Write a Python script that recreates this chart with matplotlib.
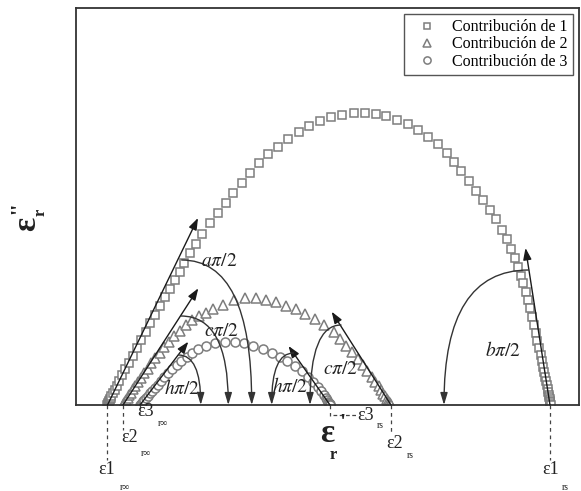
import matplotlib.pyplot as plt
from matplotlib.patches import FancyArrowPatch
from matplotlib.path import Path

plt.rcParams['font.family'] = ['Liberation Serif', 'DejaVu Serif']
plt.rcParams['mathtext.fontset'] = 'stix'

# =========================
# DATA (eps', eps'' in arbitrary units)
# =========================

# contribucion 1 - cuadrados
x1 = [107.5, 107.8, 108.2, 108.6, 109.1, 109.6, 110.2, 110.8, 111.4, 113.0,
      114.8, 117.0, 119.4, 122.1,
      125.2, 128.8, 132.6, 136.7, 141.1, 145.7, 150.4, 155.3, 160.3, 165.2,
      170.1, 174.9, 179.7, 184.5, 190.0, 196.0, 202.5, 210.0, 218.3, 226.0,
      233.3, 241.7, 250.0, 259.0, 268.3, 278.3, 288.3, 299.0, 309.3, 320.0,
      331.0, 342.3, 353.7, 364.7, 375.7, 386.3, 397.3, 408.3, 418.3, 428.3,
      437.7, 446.7, 454.0, 461.0, 469.3, 476.0, 483.3, 490.0, 496.0, 501.7,
      506.7, 511.0, 515.0, 518.3, 521.0, 523.3, 525.7, 527.7, 530.0, 532.0,
      534.0, 535.8, 537.5, 539.1, 540.6, 541.9, 543.1, 544.2, 545.2, 546.1,
      546.9, 547.6, 548.2, 548.7, 549.2, 549.6, 549.9, 550.2, 550.4, 550.6]
y1 = [0.5, 1.2, 2.0, 2.9, 3.8, 4.8, 6.0, 7.2, 8.6, 11.7,
      15.3, 19.5, 24.3, 29.7,
      35.7, 42.3, 49.5, 57.1, 65.1, 73.4, 81.9, 90.5, 99.2, 107.9,
      116.5, 125.0, 133.4, 141.8, 152.0, 161.5, 171.5, 182.3, 192.3, 202.3,
      212.3, 222.3, 232.3, 241.7, 250.7, 258.3, 266.0, 273.0, 279.3, 284.3,
      288.3, 290.3, 292.0, 292.0, 291.0, 288.7, 285.3, 281.0, 275.0, 268.3,
      260.7, 252.3, 243.3, 233.8, 224.0, 214.3, 205.0, 195.0, 185.7, 175.0,
      165.7, 155.7, 146.7, 138.3, 129.0, 121.7, 113.3, 105.0, 96.7, 88.3,
      80.0, 72.0, 64.3, 57.0, 50.2, 43.9, 38.1, 32.8, 28.0, 23.7,
      19.8, 16.3, 13.2, 10.5, 8.1, 6.0, 4.2, 2.7, 1.5, 0.5]

# contribucion 2 - triangulos
x2 = [123.5, 124.3, 125.2, 126.3, 127.6, 129.2, 131.0, 133.1, 135.5, 138.2,
      141.1, 144.3, 147.8, 151.5, 155.5, 159.8, 164.4, 169.3, 174.5, 180.0,
      186.0, 192.5, 199.5, 206.5, 213.5, 223.3, 234.3, 245.0, 255.7, 266.0,
      276.0, 285.7, 295.7, 305.3, 315.0, 324.3, 333.7, 339.9, 346.0, 352.0,
      357.6, 362.8, 367.5, 371.8, 375.4, 378.6, 381.3, 383.5, 385.4, 386.9,
      388.2, 389.1, 389.9, 390.4, 390.8]
y2 = [0.5, 1.7, 3.2, 5.0, 7.1, 9.6, 12.4, 15.6, 19.1, 23.0,
      27.2, 31.7, 36.5, 41.6, 46.9, 52.4, 57.9, 63.5, 69.0, 74.4,
      79.6, 84.6, 89.0, 92.5, 95.7, 100.0, 104.7, 106.7, 106.7, 105.0,
      102.7, 99.3, 95.7, 91.0, 85.7, 80.3, 73.0, 66.3, 59.5, 52.7,
      46.0, 39.6, 33.6, 28.0, 23.0, 18.6, 14.8, 11.5, 8.7, 6.4,
      4.5, 3.0, 1.8, 0.9, 0.3]

# contribucion 3 - circulos
x3 = [140.5, 141.2, 142.1, 143.2, 144.5, 146.0, 147.8, 149.8, 152.1, 154.7,
      157.6, 160.8, 164.3, 168.1, 172.2, 176.7, 181.5, 186.6, 192.0, 197.7,
      206.0, 215.0, 225.0, 235.0, 244.3, 253.3, 262.7, 271.7, 280.0, 287.3,
      295.0, 301.7, 308.3, 313.5, 317.8, 321.2, 323.9, 325.9, 327.4, 328.5,
      329.3, 329.8, 330.1]
y3 = [0.4, 1.3, 2.4, 3.8, 5.4, 7.2, 9.3, 11.7, 14.3, 17.2,
      20.4, 23.9, 27.6, 31.6, 35.7, 40.0, 44.3, 48.5, 52.4, 55.9,
      59.0, 61.7, 63.3, 63.3, 61.7, 59.0, 55.7, 52.3, 48.3, 44.3,
      39.3, 34.3, 28.3, 23.0, 18.0, 13.7, 10.1, 7.2, 4.9, 3.1,
      1.8, 0.9, 0.3]

labels = ["Contribución de 1", "Contribución de 2", "Contribución de 3"]

# tangentes en los extremos: origen en el eje, punta de flecha
tan_x0 = [107.5, 123.0, 140.0, 330.0, 391.0, 550.0]
tan_x1 = [198.0, 198.3, 188.3, 288.5, 331.7, 525.5]
tan_y1 = [187.0, 116.7, 63.3, 59.0, 93.3, 157.0]

# arcos de angulo: inicio sobre la tangente, final sobre el eje
arc_xs = [181.7, 181.0, 178.5, 293.5, 341.0, 528.5]
arc_ys = [145.0, 89.0, 50.0, 52.0, 80.0, 135.0]
arc_xe = [251.7, 228.3, 200.7, 271.7, 310.0, 444.0]
arc_txt = [r"$a\pi/2$", r"$c\pi/2$", r"$h\pi/2$", r"$h\pi/2$", r"$c\pi/2$", r"$b\pi/2$"]
txt_x = [219, 222, 182, 290, 341, 503]
txt_y = [143, 74, 17, 18, 35, 55]

# =========================
# PLOT
# =========================

fig = plt.figure(figsize=(5.81, 4.91), dpi=100)
ax = fig.add_axes([76/581, 86/491, 503/581, 397/491])
ax.set_xlim(76, 579)
ax.set_ylim(0, 397)
ax.set_xticks([])
ax.set_yticks([])
for s in ax.spines.values():
    s.set_color('#333333')
    s.set_linewidth(1.3)

gray = '#7d7d7d'
h1, = ax.plot(x1, y1, 's', ms=6, mfc='white', mec=gray, mew=1.1, zorder=2)
h2, = ax.plot(x2, y2, '^', ms=7, mfc='white', mec=gray, mew=1.1, zorder=2)
h3, = ax.plot(x3, y3, 'o', ms=6.5, mfc='white', mec=gray, mew=1.1, zorder=2)

ax.legend([h1, h2, h3], labels, loc='upper right', fontsize=11.5,
          fancybox=False, edgecolor='#555555', framealpha=1,
          borderaxespad=0.4, borderpad=0.3, handlelength=2.2,
          handletextpad=0.5, labelspacing=0.08, markerscale=0.8)

for i in range(len(tan_x0)):
    ax.annotate('', xy=(tan_x1[i], tan_y1[i]), xytext=(tan_x0[i], 0),
                arrowprops=dict(arrowstyle='-|>,head_length=0.7,head_width=0.25',
                                color='#1a1a1a', lw=1.0, shrinkA=0, shrinkB=0,
                                mutation_scale=10), zorder=3)

for i in range(len(arc_xs)):
    p = Path([(arc_xs[i], arc_ys[i]), (arc_xe[i], arc_ys[i]), (arc_xe[i], 0)],
             [Path.MOVETO, Path.CURVE3, Path.CURVE3])
    arc = FancyArrowPatch(path=p, arrowstyle='-|>,head_length=0.6,head_width=0.18',
                          mutation_scale=12, color='#333333', lw=1.0, zorder=3)
    ax.add_patch(arc)
    ax.text(txt_x[i], txt_y[i], arc_txt[i], fontsize=14, ha='center',
            va='center', color='#222222')

# marcas bajo el eje
dash_x = [107.5, 123.0, 140.0, 330.0, 391.5, 550.5]
dash_y = [-55, -25, -8, -11, -28, -55]
for xd, yd in zip(dash_x, dash_y):
    ax.plot([xd, xd], [0, yd], '--', color='#444444', lw=0.9,
            dashes=(3, 3), clip_on=False)
ax.plot([333, 356], [-10, -10], '--', color='#444444', lw=0.9,
        dashes=(3, 2), clip_on=False)

tc = '#222222'
ax.text(107, -65, "ε1", fontsize=13, ha='center', va='center', color=tc)
ax.text(125, -82, "r∞", fontsize=7, ha='center', va='center', color=tc)
ax.text(130, -33, "ε2", fontsize=13, ha='center', va='center', color=tc)
ax.text(146, -49, "r∞", fontsize=7, ha='center', va='center', color=tc)
ax.text(146, -7, "ε3", fontsize=13, ha='center', va='center', color=tc)
ax.text(163, -18, "r∞", fontsize=7, ha='center', va='center', color=tc)
ax.text(366, -10, "ε3", fontsize=13, ha='center', va='center', color=tc)
ax.text(380, -20, "rs", fontsize=7, ha='center', va='center', color=tc)
ax.text(395, -38, "ε2", fontsize=13, ha='center', va='center', color=tc)
ax.text(410, -51, "rs", fontsize=7, ha='center', va='center', color=tc)
ax.text(551, -65, "ε1", fontsize=13, ha='center', va='center', color=tc)
ax.text(565, -82, "rs", fontsize=7, ha='center', va='center', color=tc)

# etiquetas de los ejes
ax.text(327, -28, "ε", fontsize=24, fontweight='bold', ha='center',
        va='center', color=tc)
ax.text(342, -18, "'", fontsize=16, fontweight='bold', ha='center',
        va='center', color=tc)
ax.text(333, -50, "r", fontsize=12, fontweight='bold', ha='center',
        va='center', color=tc)

fig.text(27/581, 1 - 224/491, "ε", fontsize=24, fontweight='bold',
         rotation=90, ha='center', va='center', color=tc)
fig.text(19/581, 1 - 208/491, "''", fontsize=16, fontweight='bold',
         rotation=90, ha='center', va='center', color=tc)
fig.text(41/581, 1 - 212/491, "r", fontsize=12, fontweight='bold',
         rotation=90, ha='center', va='center', color=tc)

fig.savefig('out.png', dpi=100)
